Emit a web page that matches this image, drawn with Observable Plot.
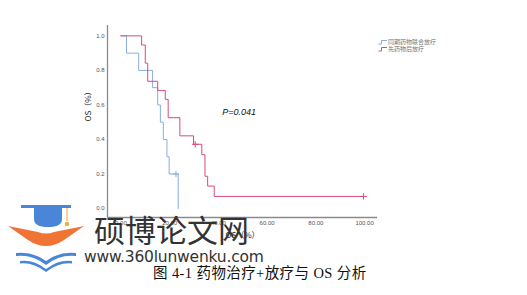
<!DOCTYPE html>
<html>
<head>
<meta charset="utf-8">
<script src="https://cdn.jsdelivr.net/npm/d3@7"></script>
<script src="https://cdn.jsdelivr.net/npm/@observablehq/plot@0.6"></script>
<style>
  html, body { margin: 0; padding: 0; background: #fff; }
  #wrap { position: relative; width: 527px; height: 295px; overflow: hidden; }
  #chart svg { display: block; }
  .ov { position: absolute; white-space: nowrap; }
</style>
</head>
<body>
<div id="wrap">
  <div id="chart"></div>
  <div class="ov" id="legend" style="left:378px; top:38px; font: 6px 'Noto Sans CJK SC', sans-serif; color:#777; line-height:7px;"></div>
  <svg class="ov" style="left:0; top:0;" width="100" height="295" viewBox="0 0 100 295">
    <path d="M21,205 L71,205 L71,208 L21,208 Z" fill="#4a86d8"/>
    <path d="M34,208 L62,208 L62,219 Q62,227 48,227 Q34,227 34,219 Z" fill="#4a86d8"/>
    <path d="M67,208 L67,221" stroke="#f0a040" stroke-width="1"/>
    <circle cx="67" cy="224" r="2.3" fill="#f0b040"/>
    <path d="M8,226 L38,232 Q46,235 54,232 L84,226 L64,240 Q46,252 28,240 Z" fill="#f07535"/>
    <path d="M16,253 Q32,251 46,261 Q60,251 76,253 L76,256 Q60,254 46,265 Q32,254 16,256 Z" fill="#4a86d8"/>
    <path d="M20,261 Q33,259 46,269 Q59,259 72,261 L72,263.5 Q59,262 46,272 Q33,262 20,263.5 Z" fill="#4a86d8"/>
  </svg>
  <div class="ov" id="wm1" style="left:94px; top:209px; font: 31px 'Noto Sans CJK SC', sans-serif; color:#333; line-height:40px;"></div>
  <div class="ov" id="wm2" style="left:84px; top:248px; font: 15.5px 'DejaVu Sans', sans-serif; color:#333; line-height:18px; letter-spacing:-0.2px;"></div>
  <div class="ov" id="cap" style="left:153px; top:264px; font: 14.5px 'Liberation Serif', 'Noto Sans CJK SC', serif; color:#111; line-height:18px; letter-spacing:0.4px;"></div>
</div>
<script>
// ---- data ----
const blueName = "同期药物联合放疗";
const pinkName = "先药物后放疗";
const blueTimes = [0, 2.3, 7.3, 13.0, 15.1, 16.2, 17.4, 18.9, 19.8, 23.5];
const blueSurv  = [1.0, 0.9, 0.8, 0.7, 0.6, 0.5, 0.4, 0.3, 0.2, 0.0];
const blueCensorTimes = [22.6];
const blueCensorSurv  = [0.2];
const pinkTimes = [0, 8.5, 10.0, 11.0, 15.1, 18.2, 19.4, 24.2, 29.8, 33.2, 34.5, 35.6, 38.3, 99.6];
const pinkSurv  = [1.0, 0.947, 0.842, 0.737, 0.684, 0.632, 0.526, 0.421, 0.372, 0.312, 0.187, 0.130, 0.070, 0.070];
const pinkCensorTimes = [30.5, 99.6];
const pinkCensorSurv  = [0.372, 0.070];
const xTicks = [0, 20, 40, 60, 80, 100];
const yTicks = [0, 0.2, 0.4, 0.6, 0.8, 1.0];
const pText = "P=0.041";
const axisLabel = "OS（%）";
const caption = "图 4-1  药物治疗+放疗与 OS 分析";
const watermark1 = "硕博论文网";
const watermark2 = "www.360lunwenku.com";

const blueColor = "#86aee4";
const pinkColor = "#dc4a7a";

const blue = blueTimes.map((t, i) => ({t, s: blueSurv[i]}));
const pink = pinkTimes.map((t, i) => ({t, s: pinkSurv[i]}));
const blueC = blueCensorTimes.map((t, i) => ({t, s: blueCensorSurv[i]}));
const pinkC = pinkCensorTimes.map((t, i) => ({t, s: pinkCensorSurv[i]}));

const xDom = [-5.5, 105.3];
const yDom = [-0.052, 1.06];

const chart = Plot.plot({
  width: 527,
  height: 295,
  marginLeft: 107,
  marginRight: 150,
  marginTop: 25,
  marginBottom: 78,
  x: {domain: xDom},
  y: {domain: yDom},
  style: {fontFamily: "'Liberation Sans', Arial, sans-serif", background: "#fff"},
  marks: [
    Plot.ruleX([xDom[0]], {stroke: "#8a8a8a", strokeWidth: 1.3}),
    Plot.ruleY([yDom[0]], {stroke: "#8a8a8a", strokeWidth: 1.3}),
    Plot.axisY({ticks: yTicks, tickSize: 0, tickPadding: 3, tickFormat: d3.format(".1f"),
      fontSize: 6, fill: "#555", label: null}),
    Plot.axisX({ticks: xTicks, tickSize: 0, tickPadding: 3, tickFormat: d3.format(".2f"),
      fontSize: 6, fill: "#555", label: null}),
    Plot.text([axisLabel], {frameAnchor: "left", rotate: -90, dx: -19, fontSize: 8, fill: "#222",
      fontFamily: "'Noto Sans CJK SC', sans-serif"}),
    Plot.text([axisLabel], {frameAnchor: "bottom", dy: 20, fontSize: 8, fill: "#222",
      fontFamily: "'Noto Sans CJK SC', sans-serif"}),
    Plot.line(blue, {x: "t", y: "s", curve: "step-after", stroke: blueColor, strokeWidth: 1}),
    Plot.line(pink, {x: "t", y: "s", curve: "step-after", stroke: pinkColor, strokeWidth: 1}),
    Plot.dot(blueC, {x: "t", y: "s", symbol: "plus", r: 2.2, stroke: blueColor, strokeWidth: 1}),
    Plot.dot(pinkC, {x: "t", y: "s", symbol: "plus", r: 2.2, stroke: pinkColor, strokeWidth: 1}),
    Plot.text([pText], {x: 41.6, y: 0.56, text: d => d, textAnchor: "start", fontSize: 9, fontStyle: "italic", fill: "#111"})
  ]
});
document.getElementById("chart").appendChild(chart);

// legend
const leg = document.getElementById("legend");
[[blueName, blueColor], [pinkName, pinkColor]].forEach(([name, c]) => {
  const row = document.createElement("div");
  row.style.display = "flex";
  row.style.alignItems = "center";
  row.style.height = "7px";
  row.innerHTML = `<svg width="9" height="6" style="margin-right:1px;flex:none"><path d="M0.5,5 L3.5,5 L3.5,1.5 L9,1.5" fill="none" stroke="${c}" stroke-width="1"/></svg><span>${name}</span>`;
  leg.appendChild(row);
});
document.getElementById("wm1").textContent = watermark1;
document.getElementById("wm2").textContent = watermark2;
document.getElementById("cap").textContent = caption;
</script>
</body>
</html>
